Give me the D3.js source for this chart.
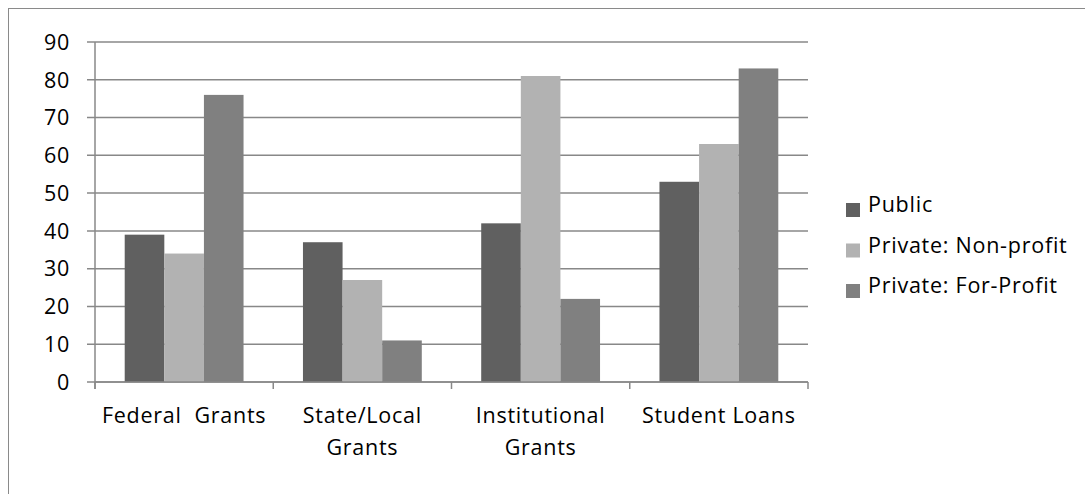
<!DOCTYPE html>
<html><head><meta charset="utf-8">
<script src="https://cdn.jsdelivr.net/npm/d3@7"></script>
<style>html,body{margin:0;padding:0;background:#fff;}svg{display:block;}</style>
</head><body>
<svg id="chart" width="1085" height="494"></svg>
<script>
const categories = ["Federal  Grants", "State/Local Grants", "Institutional Grants", "Student Loans"];
const categoryLines = [["Federal\u00a0\u00a0Grants"], ["State/Local", "Grants"], ["Institutional", "Grants"], ["Student Loans"]];
const seriesNames = ["Public", "Private: Non-profit", "Private: For-Profit"];
const publicVals = [39, 37, 42, 53];
const nonProfitVals = [34, 27, 81, 63];
const forProfitVals = [76, 11, 22, 83];
const yTicks = [0, 10, 20, 30, 40, 50, 60, 70, 80, 90];
const colors = ["#606060", "#b2b2b2", "#808080"];

const series = [publicVals, nonProfitVals, forProfitVals];
const svg = d3.select("#chart");
const font = "'Open Sans', sans-serif";
const fs = 21.5;
const ls = 0.75;
const axisColor = "#888888";

// outer frame
svg.append("rect").attr("x", 8.5).attr("y", 8.5).attr("width", 1100).attr("height", 520)
  .attr("fill", "none").attr("stroke", "#8a8a8a").attr("stroke-width", 1);

const pLeft = 95, pRight = 808, pTop = 42, pBottom = 382;
const y = d3.scaleLinear().domain([0, 90]).range([pBottom, pTop]);
const x0 = d3.scaleBand().domain(categories).range([pLeft, pRight]).paddingInner(0).paddingOuter(0);
const bw = x0.bandwidth() / (3 + 1.5);

// gridlines + y ticks
svg.append("g").selectAll("line").data(yTicks).join("line")
  .attr("x1", pLeft - 8).attr("x2", pRight)
  .attr("y1", d => y(d)).attr("y2", d => y(d))
  .attr("stroke", axisColor).attr("stroke-width", 1.5);

// bars
categories.forEach((c, i) => {
  const start = x0(c) + bw * 0.75;
  series.forEach((s, j) => {
    svg.append("rect")
      .attr("x", start + j * bw).attr("y", y(s[i]))
      .attr("width", bw).attr("height", y(0) - y(s[i]))
      .attr("fill", colors[j]);
  });
});

// y axis line
svg.append("line").attr("x1", pLeft).attr("x2", pLeft).attr("y1", pTop).attr("y2", pBottom + 7)
  .attr("stroke", axisColor).attr("stroke-width", 1.5);
// x axis line
svg.append("line").attr("x1", pLeft).attr("x2", pRight).attr("y1", pBottom).attr("y2", pBottom)
  .attr("stroke", axisColor).attr("stroke-width", 1.5);
// x ticks at category boundaries
const bounds = categories.map(c => x0(c)).concat([pRight]);
svg.append("g").selectAll("line").data(bounds).join("line")
  .attr("x1", d => d).attr("x2", d => d).attr("y1", pBottom).attr("y2", pBottom + 7)
  .attr("stroke", axisColor).attr("stroke-width", 1.5);

function styleText(sel) {
  return sel.attr("font-family", font).attr("font-size", fs).attr("letter-spacing", ls).attr("fill", "#000");
}

// y tick labels
svg.append("g").selectAll("text").data(yTicks).join("text")
  .attr("x", 70).attr("y", d => y(d)).attr("dy", "0.36em")
  .attr("text-anchor", "end").call(styleText)
  .text(d => d);

// x labels
categories.forEach((c, i) => {
  const cx = x0(c) + x0.bandwidth() / 2;
  categoryLines[i].forEach((line, k) => {
    svg.append("text").attr("x", cx).attr("y", 423 + k * 32)
      .attr("text-anchor", "middle").call(styleText)
      .text(line);
  });
});

// legend
seriesNames.forEach((n, j) => {
  const cy = 210 + j * 40.5;
  svg.append("rect").attr("x", 846).attr("y", cy - 7).attr("width", 14).attr("height", 14).attr("fill", colors[j]);
  svg.append("text").attr("x", 868).attr("y", cy + 2).call(styleText).text(n);
});
</script>
</body></html>
